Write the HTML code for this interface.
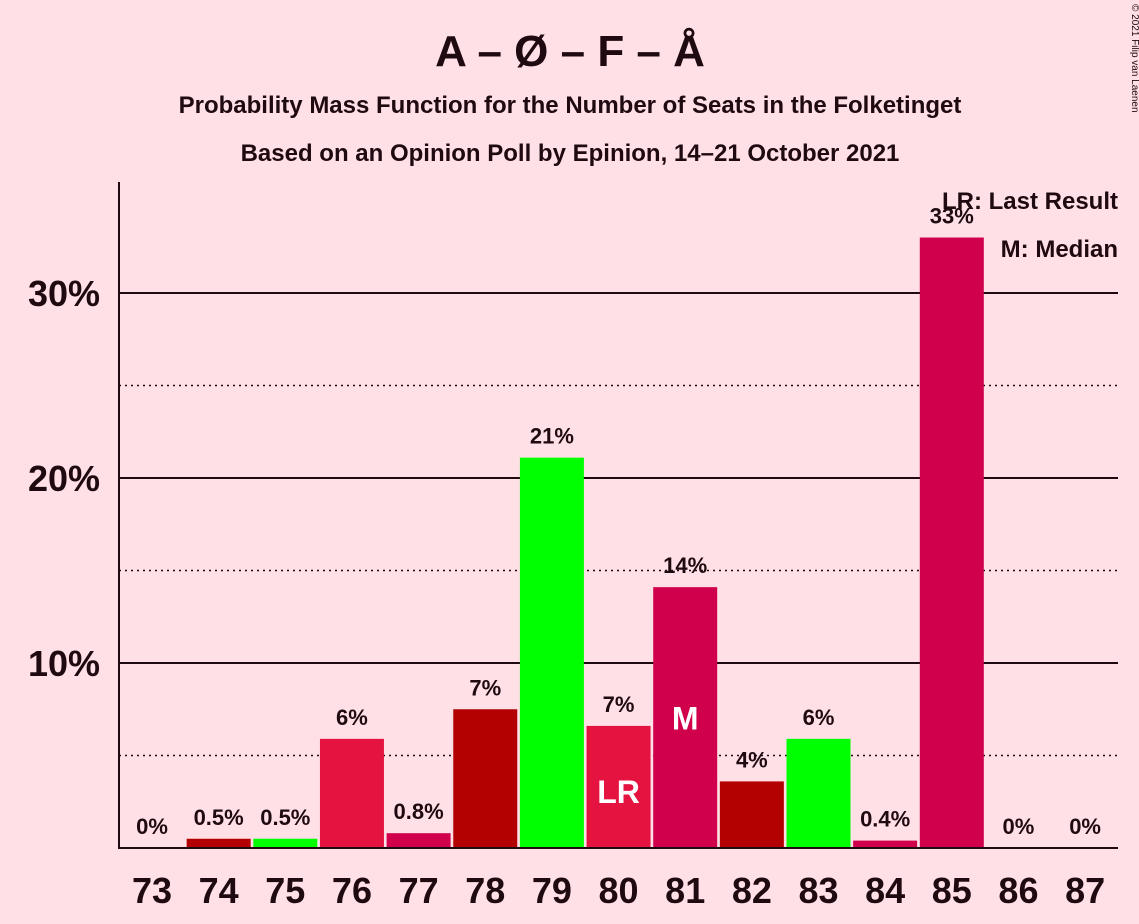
<!DOCTYPE html>
<html><head><meta charset="utf-8"><style>
body{margin:0;background:#FFE0E6;}
svg{display:block;font-family:"Liberation Sans",sans-serif;font-weight:bold;}
</style></head><body>
<svg id="chart" width="1139" height="924">
<rect width="1139" height="924" fill="#FFE0E6"/>
<text x="570" y="66" text-anchor="middle" font-size="44" fill="#1E0A10">A – Ø – F – Å</text>
<text x="570" y="113" text-anchor="middle" font-size="24" fill="#1E0A10">Probability Mass Function for the Number of Seats in the Folketinget</text>
<text x="570" y="161" text-anchor="middle" font-size="24" fill="#1E0A10">Based on an Opinion Poll by Epinion, 14–21 October 2021</text>
<text x="1132" y="4" font-size="10" font-weight="normal" fill="#1E0A10" transform="rotate(90 1132 4)">© 2021 Filip van Laenen</text>
<g id="grid"></g>
<g id="bars"></g>
<line x1="119" y1="182" x2="119" y2="849" stroke="#1E0A10" stroke-width="2"/>
<line x1="118" y1="848" x2="1118" y2="848" stroke="#1E0A10" stroke-width="2"/>
<text x="1118" y="209" text-anchor="end" font-size="24" fill="#1E0A10">LR: Last Result</text>
<text x="1118" y="257" text-anchor="end" font-size="24" fill="#1E0A10">M: Median</text>
</svg>
<script>
const categories=[73,74,75,76,77,78,79,80,81,82,83,84,85,86,87];
const values=[0,0.5,0.5,5.9,0.8,7.5,21.1,6.6,14.1,3.6,5.9,0.4,33,0,0];
const labels=["0%","0.5%","0.5%","6%","0.8%","7%","21%","7%","14%","4%","6%","0.4%","33%","0%","0%"];
const colors=["#B30000","#B30000","#00FF00","#E5133F","#D1004D","#B30000","#00FF00","#E5133F","#D1004D","#B30000","#00FF00","#D1004D","#D1004D","#B30000","#00FF00"];
const yTicks=[10,20,30];
const yMinor=[5,15,25];
const lastResult=80, median=81;
const NS="http://www.w3.org/2000/svg";
const y=v=>848-v*18.5;
const x=i=>152+i*66.65;
function el(t,a,p){const e=document.createElementNS(NS,t);for(const k in a)e.setAttribute(k,a[k]);p.appendChild(e);return e;}
const grid=document.getElementById('grid'), bars=document.getElementById('bars');
yMinor.forEach(v=>{const l=el('line',{x1:119,x2:1118,y1:y(v),y2:y(v),stroke:'#1E0A10','stroke-width':1.5,'stroke-dasharray':'2,4'},grid);

});
yTicks.forEach(v=>{const l=el('line',{x1:119,x2:1118,y1:y(v),y2:y(v),stroke:'#1E0A10','stroke-width':2},grid);


const t=el('text',{x:100,y:y(v)+13,'text-anchor':'end','font-size':36,fill:'#1E0A10'},grid);t.textContent=v+'%';

});
categories.forEach((c,i)=>{
 const h=values[i]*18.5;
 if(values[i]>0){const r=el('rect',{x:x(i)-32,y:y(values[i]),width:64,height:h,fill:colors[i]},bars);
 
 }
 const t=el('text',{x:x(i),y:y(values[i])-14,'text-anchor':'middle','font-size':22,fill:'#1E0A10'},bars);t.textContent=labels[i];
 
 
 const xl=el('text',{x:x(i),y:903,'text-anchor':'middle','font-size':36,fill:'#1E0A10'},bars);xl.textContent=c;
 
 
 if(c===lastResult||c===median){const m=el('text',{x:x(i),y:c===median?y(values[i])/2+848/2+12:803,'text-anchor':'middle','font-size':32,fill:'#FFFFFF'},bars);
 m.textContent=c===median?'M':'LR';
 
 }
});
</script>
</body></html>
